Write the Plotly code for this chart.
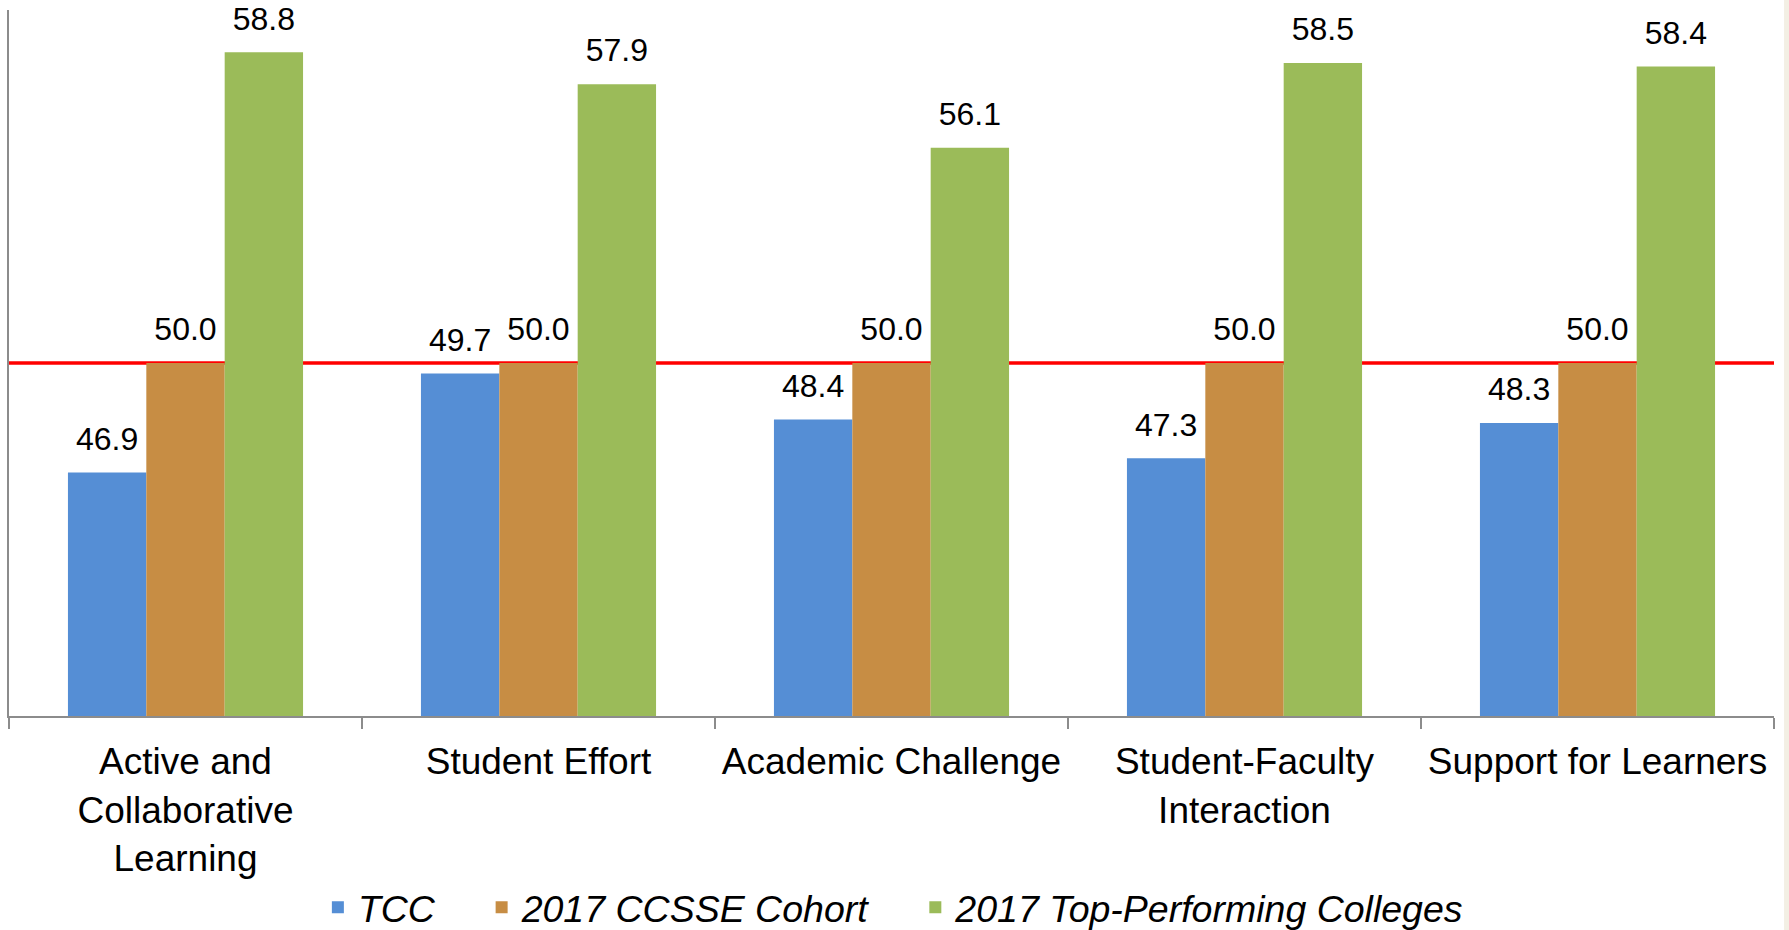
import plotly.graph_objects as go

categories = [
    "Active and<br>Collaborative<br>Learning",
    "Student Effort",
    "Academic Challenge",
    "Student-Faculty<br>Interaction",
    "Support for Learners",
]
tcc = [46.9, 49.7, 48.4, 47.3, 48.3]
cohort = [50.0, 50.0, 50.0, 50.0, 50.0]
top_performing = [58.8, 57.9, 56.1, 58.5, 58.4]
benchmark = 50.0

series_names = ["TCC", "2017 CCSSE Cohort", "2017 Top-Performing Colleges"]
series_values = [tcc, cohort, top_performing]
series_colors = ["#558ed5", "#c78d44", "#9bbb59"]

FONT = "Liberation Sans, Arial, sans-serif"
NBSP = "\u00a0"

fig = go.Figure()
for i, (name, values, color) in enumerate(zip(series_names, series_values, series_colors)):
    # trailing no-break spaces widen the gap between legend entries
    label = name + (NBSP * 4 if i < len(series_names) - 1 else "")
    fig.add_trace(go.Bar(
        x=categories,
        y=values,
        name=label,
        marker=dict(color=color, line=dict(width=0)),
        offsetgroup=str(i),
        hoverinfo="skip",
    ))

# value labels: invisible markers, grouped the same way as the bars,
# so the text sits a little higher above each bar than bar text would
for i, values in enumerate(series_values):
    fig.add_trace(go.Scatter(
        x=categories,
        y=values,
        mode="markers+text",
        orientation="v",
        offsetgroup=str(i),
        marker=dict(size=22, color="rgba(0,0,0,0)"),
        text=[f"{v:.1f}" for v in values],
        textposition="top center",
        textfont=dict(size=32, color="black", family=FONT),
        cliponaxis=False,
        showlegend=False,
        hoverinfo="skip",
    ))

# benchmark line drawn behind the bars
fig.add_shape(
    type="line", xref="paper", yref="y",
    x0=0, x1=1, y0=benchmark, y1=benchmark,
    line=dict(color="#ff0000", width=3.5),
    layer="below",
)

# thin beige strip on the right edge of the slide
fig.add_shape(
    type="rect", xref="paper", yref="paper",
    x0=1.0057, x1=1.01, y0=-0.32, y1=1.02,
    fillcolor="#f3efe4", line=dict(width=0),
    layer="below",
)

fig.update_layout(
    width=1789, height=930,
    margin=dict(l=9, r=15, t=10, b=214, autoexpand=False),
    paper_bgcolor="white",
    plot_bgcolor="white",
    font=dict(family=FONT, size=37, color="black"),
    barmode="group",
    bargap=0.334,
    bargroupgap=0,
    scattermode="group",
    scattergap=0.334,
    showlegend=True,
    legend=dict(
        orientation="h",
        x=0.175, xanchor="left",
        y=-0.271, yanchor="middle",
        font=dict(size=37.5, family=FONT, style="italic"),
        traceorder="normal",
    ),
)

fig.update_xaxes(
    showline=True, linecolor="#8c8c8c", linewidth=2,
    ticks="outside", tickson="boundaries", ticklen=11,
    tickcolor="#8c8c8c", tickwidth=2,
    ticklabelstandoff=12,
    tickfont=dict(size=37, family=FONT, color="black"),
    showgrid=False, zeroline=False, automargin=False,
)
fig.update_yaxes(
    range=[40, 60],
    showline=True, linecolor="#8c8c8c", linewidth=2,
    showticklabels=False, ticks="",
    showgrid=False, zeroline=False, automargin=False,
)

fig.write_html(
    "out.html",
    config={"displayModeBar": False},
    post_script="document.body.style.margin='0';",
)
